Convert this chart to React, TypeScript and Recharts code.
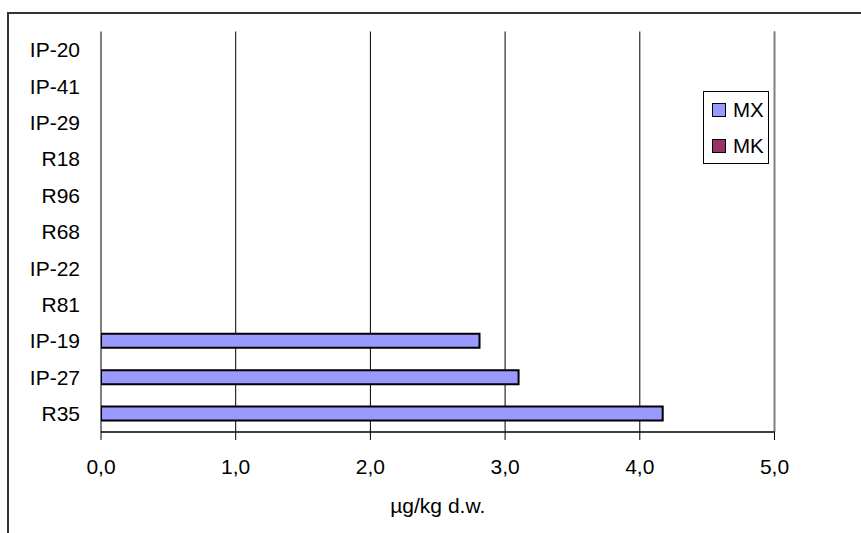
import React from 'react';
import { BarChart, Bar, XAxis, YAxis, CartesianGrid, ReferenceLine, Legend } from 'recharts';

const categories = ['IP-20', 'IP-41', 'IP-29', 'R18', 'R96', 'R68', 'IP-22', 'R81', 'IP-19', 'IP-27', 'R35'];
const mxValues = [0, 0, 0, 0, 0, 0, 0, 0, 2.81, 3.1, 4.17];
const mkValues = [0, 0, 0, 0, 0, 0, 0, 0, 0, 0, 0];
const xTicks = [0, 1, 2, 3, 4, 5];
const slotTicks = [0, 1, 2, 3, 4, 5, 6, 7, 8, 9, 10, 11];
const seriesNames = ['MX', 'MK'];
const seriesColors = ['#9999FF', '#993366'];

const data = categories.map((c, i) => ({ name: c, MX: mxValues[i], MK: mkValues[i] }));

const FONT = '"Liberation Sans", Arial, sans-serif';
const FS = 21;

const LegendBox = () => (
  <div
    style={{
      width: 64,
      height: 71,
      border: '1px solid #000',
      background: '#fff',
      fontFamily: FONT,
      fontSize: 20.5,
      color: '#000',
      position: 'relative',
    }}
  >
    {seriesNames.map((n, i) => (
      <div key={n} style={{ position: 'absolute', left: 8, top: 6 + i * 36, height: 24, display: 'flex', alignItems: 'center' }}>
        <span
          style={{
            display: 'inline-block',
            width: 12,
            height: 12,
            background: seriesColors[i],
            border: '1px solid #000',
            marginRight: 7,
          }}
        />
        <span style={{ lineHeight: '24px' }}>{n}</span>
      </div>
    ))}
  </div>
);

export default function App() {
  return (
    <div style={{ position: 'fixed', left: 0, top: 0, width: 861, height: 533, overflow: 'hidden', background: '#fff' }}>
      <div
        style={{
          position: 'absolute',
          left: 7,
          top: 12,
          width: 900,
          height: 600,
          border: '2px solid #333',
        }}
      />
      <div style={{ position: 'absolute', left: 0, top: 0 }}>
        <BarChart
          width={861}
          height={533}
          data={data}
          layout="vertical"
          margin={{ top: 31.5, right: 86.5, bottom: 0, left: 0 }}
          barGap={-14}
          barCategoryGap={0}
        >
          <CartesianGrid horizontal={false} vertical={true} stroke="#000" strokeWidth={1} />
          <XAxis
            type="number"
            domain={[0, 5]}
            ticks={xTicks}
            allowDataOverflow
            height={101}
            tickSize={8}
            tickMargin={19}
            tickFormatter={(v: number) => v.toFixed(1).replace('.', ',')}
            tick={{ fill: '#000', fontSize: FS, fontFamily: FONT }}
            axisLine={{ stroke: '#000', strokeWidth: 1.5 }}
            tickLine={{ stroke: '#000', strokeWidth: 1 }}
            label={{ value: 'µg/kg d.w.', position: 'insideBottom', offset: 20, fill: '#000', fontSize: FS, fontFamily: FONT }}
          />
          <YAxis
            yAxisId="num"
            type="number"
            domain={[0, 11]}
            ticks={slotTicks}
            allowDataOverflow
            width={0}
            tick={false}
            tickSize={7}
            tickLine={{ stroke: '#333', strokeWidth: 1.5 }}
            axisLine={{ stroke: '#444', strokeWidth: 2 }}
          />
          <YAxis
            yAxisId="cat"
            type="category"
            dataKey="name"
            width={101}
            tickLine={false}
            axisLine={false}
            tickSize={0}
            tickMargin={21}
            interval={0}
            tick={{ fill: '#000', fontSize: FS, fontFamily: FONT }}
          />
          <ReferenceLine yAxisId="num" y={11} stroke="#808080" strokeWidth={2} />
          <ReferenceLine yAxisId="num" x={5} stroke="#808080" strokeWidth={2} />
          <Legend
            layout="vertical"
            align="center"
            verticalAlign="middle"
            wrapperStyle={{ left: 703, top: 91, width: 66, height: 73 }}
            content={() => <LegendBox />}
          />
          <Bar yAxisId="cat" dataKey="MX" name="MX" fill="#9999FF" stroke="#000" strokeWidth={2} barSize={14} isAnimationActive={false} />
          <Bar yAxisId="cat" dataKey="MK" name="MK" fill="#993366" stroke="#000" strokeWidth={2} barSize={14} isAnimationActive={false} />
        </BarChart>
      </div>
    </div>
  );
}
